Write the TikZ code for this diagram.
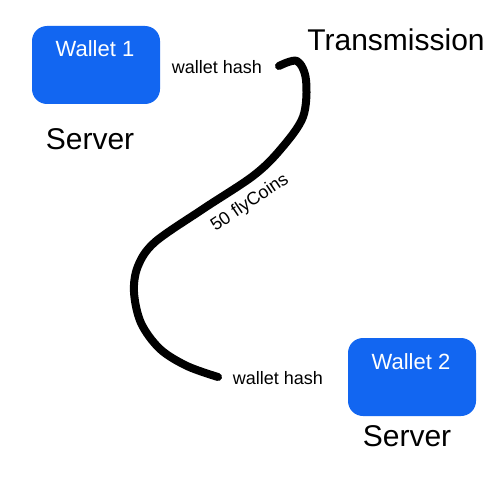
\documentclass[tikz,border=0pt]{standalone}
\usepackage{fontspec}
\setmainfont{Liberation Sans}
\definecolor{walletblue}{RGB}{18,102,241}
\begin{document}
\begin{tikzpicture}[x=1pt,y=-1pt,
  wallet/.style={fill=walletblue, rounded corners=15pt, minimum width=128pt, minimum height=78pt, inner sep=0pt},
  wlabel/.style={text=white, font=\fontsize{22}{26}\selectfont, inner sep=0pt},
  big/.style={font=\fontsize{30}{36}\selectfont, inner sep=0pt},
  small/.style={font=\fontsize{18}{21}\selectfont, inner sep=0pt},
  wire/.style={line width=8pt, line cap=round, line join=round}]
\useasboundingbox[fill=white] (0,0) rectangle (500,500);
\node[wallet] (w1) at (96,65) {};
\node[wlabel] (w1t) at (95,49) {Wallet 1};
\node[wallet] (w2) at (412,377) {};
\node[wlabel] (w2t) at (411,362) {Wallet 2};
\node[big] (s1) at (90,139) {Server};
\node[big] (s2) at (407,436) {Server};
\node[big] (tr) at (396,40) {Transmission};
\node[small] (h1) at (217,67) {wallet hash};
\node[small] (h2) at (278,378) {wallet hash};
\node[small, rotate=34] (fc) at (250,203) {50 flyCoins};
\coordinate (c1) at (279,66);
\coordinate (c2) at (218,377);
\draw[wire] plot[smooth, tension=0.55] coordinates {(c1) (297,61) (306,80) (303,117) (280,150) (253,176) (203,209) (155,242) (138,266) (134,292) (141,323) (160,349) (187,366) (c2)};
\end{tikzpicture}
\end{document}
